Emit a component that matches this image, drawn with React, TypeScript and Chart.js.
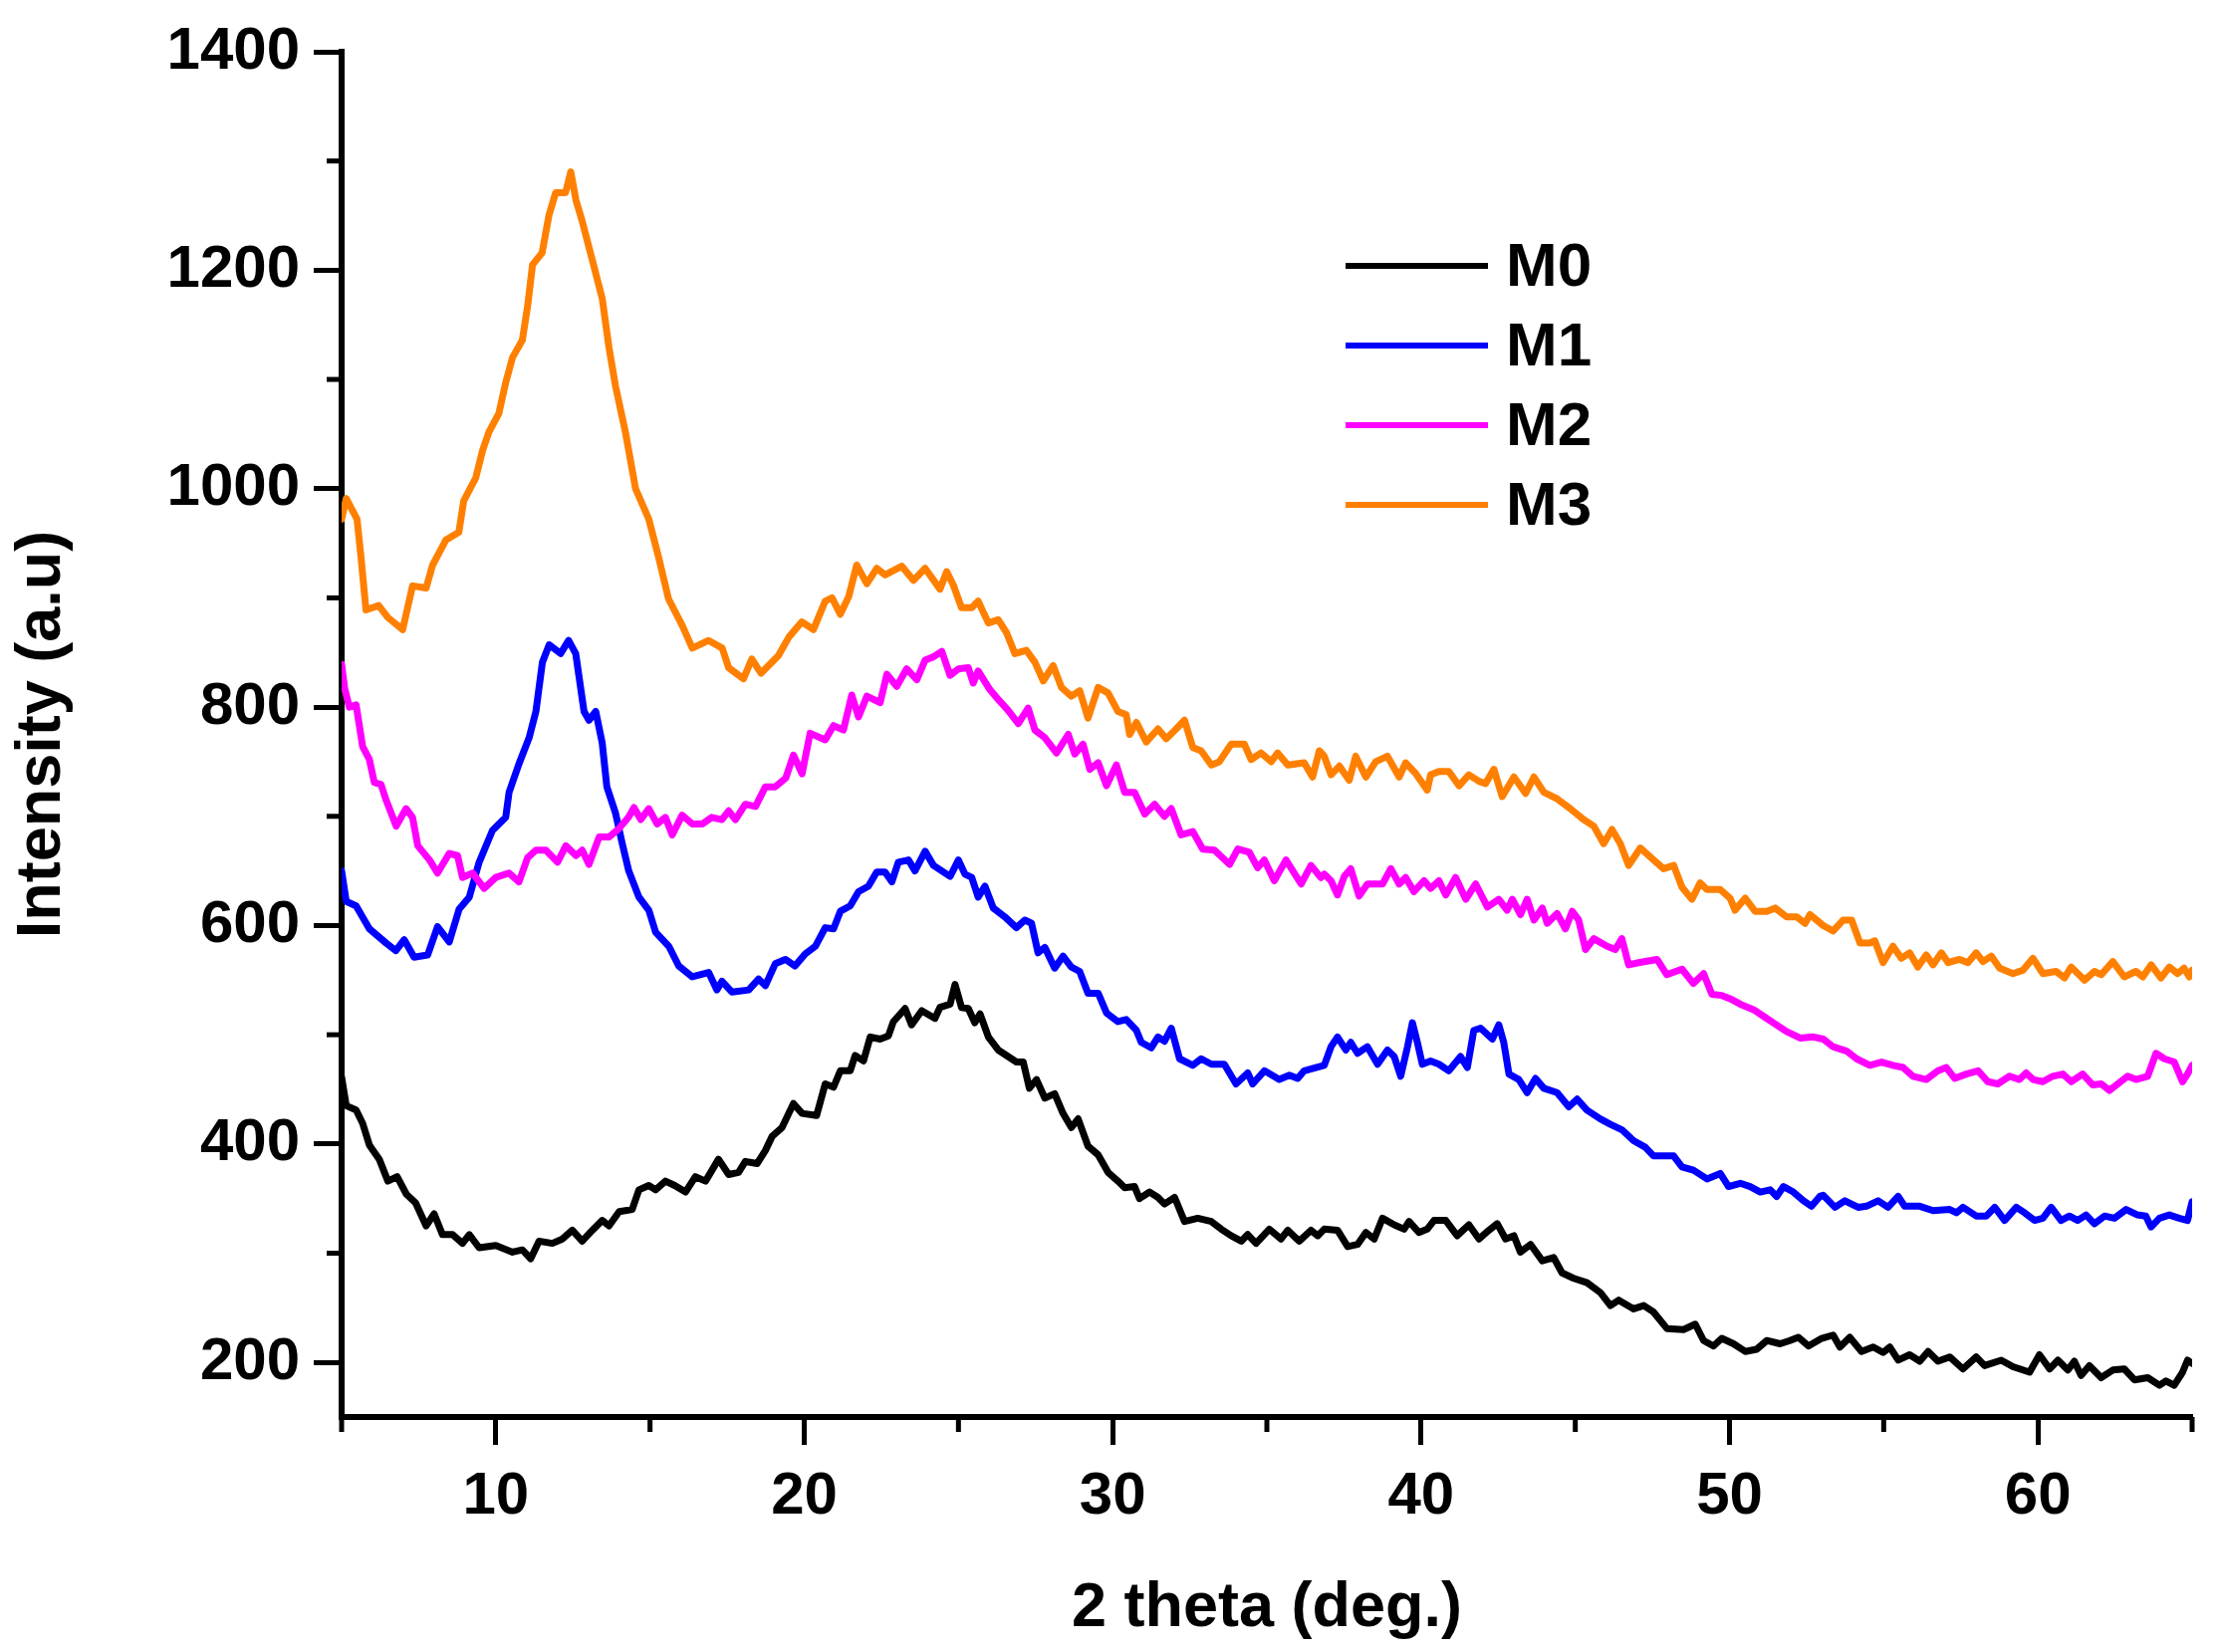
import { useEffect, useRef } from 'react';
import { Chart, registerables } from 'chart.js';

Chart.register(...registerables);

// 2 theta (deg.) and intensity (a.u.)
const m0Theta = [
  5.0, 5.15, 5.47, 5.68, 5.9, 6.22, 6.5, 6.8, 7.1, 7.4,
  7.74, 8.0, 8.27, 8.6, 8.92, 9.14, 9.46, 10.0, 10.54, 10.86,
  11.13, 11.4, 11.83, 12.16, 12.48, 12.8, 13.13, 13.45, 13.67, 14.0,
  14.42, 14.64, 14.96, 15.18, 15.5, 15.8, 16.15, 16.47, 16.8, 17.22,
  17.55, 17.87, 18.09, 18.47, 18.74, 18.96, 19.28, 19.65, 19.93, 20.4,
  20.68, 20.95, 21.17, 21.49, 21.65, 21.92, 22.14, 22.46, 22.73, 22.89,
  23.27, 23.48, 23.81, 24.24, 24.4, 24.73, 24.89, 25.1, 25.32, 25.53,
  25.7, 25.97, 26.29, 26.56, 26.88, 27.1, 27.3, 27.53, 27.8, 28.12,
  28.39, 28.66, 28.88, 29.2, 29.53, 29.85, 30.17, 30.39, 30.71, 30.87,
  31.2, 31.47, 31.68, 32.01, 32.33, 32.76, 33.2, 33.52, 33.84, 34.17,
  34.38, 34.65, 35.08, 35.46, 35.68, 36.05, 36.43, 36.65, 36.86, 37.29,
  37.62, 37.94, 38.21, 38.48, 38.75, 39.13, 39.45, 39.61, 39.93, 40.2,
  40.42, 40.8, 41.17, 41.55, 41.88, 42.2, 42.47, 42.74, 43.01, 43.22,
  43.55, 43.93, 44.3, 44.57, 44.95, 45.38, 45.81, 46.14, 46.41, 46.89,
  47.22, 47.54, 47.97, 48.51, 48.89, 49.16, 49.48, 49.75, 50.13, 50.51,
  50.88, 51.21, 51.64, 51.96, 52.23, 52.56, 52.99, 53.36, 53.58, 53.9,
  54.28, 54.66, 54.98, 55.2, 55.47, 55.84, 56.17, 56.44, 56.76, 57.14,
  57.57, 58.0, 58.27, 58.81, 59.19, 59.73, 60.05, 60.38, 60.65, 60.97,
  61.18, 61.4, 61.67, 62.05, 62.43, 62.8, 63.13, 63.56, 63.94, 64.15,
  64.42, 64.69, 64.85, 65.0,
];
const m0Intensity = [
  461, 435, 431, 419, 399, 386, 366, 370, 354, 346,
  325, 336, 317, 317, 309, 317, 305, 307, 301, 303,
  295, 311, 309, 313, 321, 311, 321, 330, 325, 338,
  340, 358, 362, 358, 366, 362, 356, 370, 366, 386,
  372, 374, 384, 382, 394, 407, 415, 437, 428, 426,
  455, 452, 467, 467, 481, 476, 498, 496, 499, 512,
  524, 509, 522, 515, 525, 528, 546, 525, 524, 511,
  519, 498, 486, 481, 475, 475, 451, 459, 442, 446,
  428, 415, 423, 398, 390, 374, 366, 360, 361, 350,
  356, 351, 345, 351, 329, 332, 329, 322, 316, 311,
  317, 309, 322, 313, 321, 311, 321, 316, 322, 321,
  306, 308, 319, 313, 332, 326, 322, 329, 319, 322,
  330, 330, 316, 326, 313, 321, 327, 313, 316, 301,
  308, 293, 296, 282, 277, 273, 264, 252, 257, 249,
  252, 246, 231, 230, 235, 220, 215, 222, 217, 210,
  212, 220, 217, 220, 223, 215, 222, 225, 214, 223,
  210, 214, 209, 214, 202, 207, 201, 210, 201, 205,
  194, 205, 197, 202, 196, 191, 207, 194, 202, 193,
  201, 188, 197, 186, 193, 194, 184, 186, 179, 183,
  179, 191, 202, 199,
];

const m1Theta = [
  5.0, 5.15, 5.47, 5.9, 6.44, 6.76, 7.03, 7.35, 7.79, 8.11,
  8.49, 8.81, 9.14, 9.46, 9.89, 10.32, 10.43, 10.75, 11.08, 11.3,
  11.51, 11.73, 12.1, 12.36, 12.59, 12.86, 13.02, 13.24, 13.45, 13.6,
  13.88, 14.1, 14.31, 14.64, 14.96, 15.18, 15.61, 15.93, 16.37, 16.9,
  17.17, 17.33, 17.66, 18.2, 18.52, 18.74, 19.06, 19.39, 19.7, 20.03,
  20.36, 20.68, 20.95, 21.17, 21.49, 21.76, 22.08, 22.35, 22.62, 22.84,
  23.05, 23.38, 23.59, 23.92, 24.19, 24.46, 24.73, 25.0, 25.21, 25.43,
  25.64, 25.86, 26.13, 26.5, 26.88, 27.15, 27.37, 27.58, 27.8, 28.12,
  28.39, 28.66, 28.93, 29.2, 29.53, 29.8, 30.17, 30.44, 30.77, 30.93,
  31.25, 31.47, 31.68, 31.9, 32.17, 32.6, 32.87, 33.2, 33.62, 34.0,
  34.38, 34.54, 34.92, 35.4, 35.73, 36.0, 36.21, 36.59, 36.86, 37.08,
  37.29, 37.56, 37.72, 37.94, 38.26, 38.59, 38.91, 39.13, 39.34, 39.56,
  39.72, 39.88, 40.04, 40.31, 40.58, 40.9, 41.28, 41.5, 41.71, 41.93,
  42.31, 42.52, 42.68, 42.85, 43.17, 43.44, 43.71, 43.98, 44.41, 44.79,
  45.06, 45.38, 45.81, 46.14, 46.51, 46.89, 47.27, 47.54, 48.19, 48.46,
  48.83, 49.27, 49.7, 49.97, 50.35, 50.67, 51.0, 51.32, 51.53, 51.75,
  52.07, 52.4, 52.66, 52.93, 53.04, 53.42, 53.74, 54.17, 54.44, 54.82,
  55.14, 55.47, 55.68, 56.17, 56.6, 57.14, 57.36, 57.57, 58.0, 58.33,
  58.6, 58.92, 59.3, 59.57, 59.89, 60.16, 60.43, 60.75, 61.02, 61.29,
  61.56, 61.83, 62.16, 62.48, 62.86, 63.23, 63.5, 63.67, 63.94, 64.26,
  64.58, 64.85, 65.0,
];
const m1Intensity = [
  650, 622, 618, 597, 584, 577, 587, 571, 573, 599,
  585, 615, 626, 658, 687, 699, 722, 748, 772, 796,
  841, 857, 849, 861, 849, 796, 788, 796, 767, 727,
  703, 675, 650, 626, 614, 594, 581, 563, 553, 557,
  541, 549, 539, 541, 551, 545, 565, 569, 563, 574,
  581, 598, 597, 613, 618, 631, 636, 649, 649, 640,
  658, 660, 650, 668, 655, 650, 645, 660, 647, 644,
  626, 636, 616, 608, 598, 605, 602, 575, 580, 561,
  572, 562, 558, 538, 538, 520, 512, 514, 504, 493,
  488, 498, 494, 506, 478, 472, 478, 473, 473, 455,
  465, 455, 467, 459, 463, 460, 467, 470, 472, 489,
  498, 486, 493, 483, 489, 473, 486, 480, 462, 489,
  511, 493, 473, 476, 473, 467, 480, 470, 504, 506,
  496, 509, 493, 464, 459, 447, 460, 451, 447, 434,
  441, 431, 423, 418, 413, 403, 397, 389, 389, 379,
  376, 368, 373, 361, 364, 361, 356, 358, 352, 361,
  356, 348, 343, 352, 353, 342, 348, 342, 343, 348,
  342, 352, 343, 343, 339, 340, 337, 342, 334, 334,
  342, 330, 342, 337, 330, 332, 342, 330, 334, 330,
  335, 327, 334, 332, 340, 335, 334, 324, 332, 335,
  332, 330, 347,
];

const m2Theta = [
  5.0, 5.1, 5.25, 5.47, 5.68, 5.9, 6.06, 6.28, 6.44, 6.66,
  6.77, 7.09, 7.3, 7.47, 7.85, 8.11, 8.49, 8.76, 8.92, 9.25,
  9.62, 10.0, 10.43, 10.75, 11.03, 11.3, 11.62, 12.0, 12.27, 12.6,
  12.8, 13.02, 13.35, 13.67, 14.0, 14.3, 14.48, 14.7, 14.96, 15.23,
  15.5, 15.72, 16.04, 16.37, 16.7, 17.0, 17.33, 17.55, 17.77, 18.09,
  18.42, 18.74, 19.06, 19.4, 19.65, 19.93, 20.19, 20.68, 20.95, 21.27,
  21.54, 21.76, 22.03, 22.46, 22.68, 23.0, 23.32, 23.65, 23.92, 24.19,
  24.46, 24.73, 25.0, 25.32, 25.48, 25.64, 26.02, 26.29, 26.61, 26.94,
  27.26, 27.48, 27.8, 28.18, 28.56, 28.77, 29.04, 29.26, 29.53, 29.8,
  30.12, 30.39, 30.71, 31.04, 31.36, 31.68, 31.9, 32.22, 32.6, 32.92,
  33.3, 33.79, 34.06, 34.43, 34.7, 34.92, 35.24, 35.62, 36.11, 36.43,
  36.75, 36.86, 37.08, 37.29, 37.51, 37.72, 37.99, 38.26, 38.75, 39.02,
  39.29, 39.5, 39.77, 40.1, 40.31, 40.58, 40.8, 41.12, 41.45, 41.77,
  42.15, 42.52, 42.79, 42.96, 43.22, 43.44, 43.66, 43.93, 44.09, 44.41,
  44.68, 44.9, 45.11, 45.33, 45.6, 46.03, 46.3, 46.51, 46.73, 47.05,
  47.65, 47.97, 48.46, 48.83, 49.16, 49.43, 49.75, 50.02, 50.35, 50.78,
  51.1, 51.42, 51.85, 52.29, 52.72, 53.04, 53.36, 53.8, 54.12, 54.55,
  54.93, 55.3, 55.63, 55.95, 56.38, 56.76, 57.03, 57.3, 57.68, 58.06,
  58.38, 58.7, 59.08, 59.4, 59.62, 59.84, 60.16, 60.48, 60.81, 61.08,
  61.45, 61.78, 62.05, 62.32, 62.59, 62.91, 63.18, 63.56, 63.83, 64.1,
  64.42, 64.69, 64.85, 65.0,
];
const m2Intensity = [
  839, 817, 800, 802, 764, 752, 731, 729, 715, 699,
  691, 707, 699, 673, 660, 648, 666, 664, 644, 648,
  634, 644, 648, 640, 662, 669, 669, 658, 673, 664,
  669, 656, 681, 681, 689, 699, 708, 697, 707, 693,
  699, 683, 701, 693, 693, 699, 697, 705, 697, 711,
  709, 727, 727, 735, 756, 739, 776, 770, 783, 779,
  811, 791, 810, 804, 830, 819, 835, 825, 843, 846,
  851, 829, 835, 836, 822, 833, 816, 807, 797, 785,
  799, 779, 772, 758, 775, 757, 766, 743, 749, 728,
  747, 722, 722, 702, 711, 700, 707, 683, 686, 670,
  669, 656, 670, 667, 653, 660, 641, 660, 638, 655,
  644, 647, 641, 628, 645, 652, 627, 638, 638, 652,
  638, 644, 631, 641, 634, 641, 628, 644, 624, 638,
  617, 624, 614, 624, 610, 624, 605, 616, 602, 611,
  597, 613, 605, 578, 588, 581, 578, 588, 564, 566,
  569, 555, 560, 547, 556, 537, 536, 533, 528, 523,
  517, 511, 503, 497, 498, 496, 489, 485, 478, 472,
  475, 472, 470, 462, 459, 467, 470, 460, 464, 467,
  457, 455, 462, 459, 465, 459, 457, 462, 464, 457,
  464, 454, 455, 449, 455, 462, 459, 462, 483, 478,
  475, 457, 464, 472,
];

const m3Theta = [
  5.0, 5.15, 5.5, 5.63, 5.79, 6.2, 6.5, 6.98, 7.3, 7.74,
  7.95, 8.38, 8.8, 8.96, 9.35, 9.57, 9.78, 10.1, 10.32, 10.54,
  10.86, 11.03, 11.19, 11.5, 11.72, 11.94, 12.26, 12.43, 12.6, 12.8,
  13.13, 13.45, 13.67, 13.88, 14.2, 14.53, 14.96, 15.28, 15.6, 16.04,
  16.37, 16.9, 17.34, 17.55, 18.03, 18.3, 18.6, 19.16, 19.5, 19.92,
  20.3, 20.68, 20.9, 21.17, 21.44, 21.7, 22.03, 22.35, 22.62, 23.16,
  23.54, 23.92, 24.4, 24.62, 24.83, 25.1, 25.43, 25.64, 25.97, 26.29,
  26.56, 26.83, 27.2, 27.48, 27.75, 28.07, 28.34, 28.66, 28.93, 29.2,
  29.53, 29.85, 30.17, 30.44, 30.55, 30.77, 31.09, 31.47, 31.74, 32.06,
  32.33, 32.6, 32.87, 33.2, 33.46, 33.84, 34.27, 34.49, 34.81, 35.14,
  35.35, 35.68, 36.21, 36.48, 36.7, 36.86, 37.08, 37.35, 37.67, 37.88,
  38.21, 38.53, 38.91, 39.29, 39.5, 39.83, 40.2, 40.31, 40.58, 40.9,
  41.23, 41.55, 41.88, 42.09, 42.36, 42.63, 43.01, 43.39, 43.66, 43.98,
  44.41, 44.84, 45.27, 45.6, 45.92, 46.19, 46.46, 46.73, 47.11, 47.54,
  47.86, 48.19, 48.46, 48.78, 49.05, 49.27, 49.7, 50.02, 50.18, 50.51,
  50.83, 51.21, 51.48, 51.85, 52.18, 52.45, 52.61, 53.04, 53.36, 53.69,
  53.96, 54.23, 54.55, 54.71, 54.98, 55.3, 55.57, 55.84, 56.11, 56.38,
  56.6, 56.87, 57.09, 57.46, 57.73, 58.0, 58.22, 58.49, 58.76, 59.19,
  59.51, 59.84, 60.16, 60.59, 60.86, 61.08, 61.51, 61.83, 62.05, 62.43,
  62.8, 63.18, 63.4, 63.67, 63.99, 64.26, 64.53, 64.74, 64.91, 65.0,
];
const m3Intensity = [
  972, 991, 972, 937, 889, 893, 882, 871, 911, 909,
  930, 953, 960, 989, 1010, 1035, 1052, 1069, 1097, 1120,
  1136, 1167, 1205, 1216, 1250, 1271, 1271, 1290, 1264, 1245,
  1209, 1174, 1129, 1094, 1052, 1000, 972, 937, 899, 875,
  854, 861, 854, 836, 826, 844, 831, 847, 864, 878,
  871, 897, 900, 885, 901, 930, 913, 927, 921, 929,
  916, 927, 908, 924, 912, 891, 891, 897, 877, 880,
  868, 849, 852, 841, 824, 838, 818, 810, 815, 790,
  818, 813, 796, 793, 775, 786, 768, 780, 771, 780,
  788, 763, 760, 747, 750, 766, 766, 752, 758, 750,
  758, 747, 749, 736, 760, 755, 738, 746, 733, 755,
  736, 750, 755, 736, 749, 739, 724, 738, 741, 741,
  728, 738, 732, 730, 743, 718, 736, 721, 736, 722,
  716, 707, 697, 691, 675, 688, 675, 655, 671, 660,
  652, 655, 635, 624, 639, 633, 633, 625, 614, 625,
  613, 613, 616, 608, 608, 602, 610, 600, 595, 605,
  605, 584, 584, 586, 566, 581, 570, 575, 562, 573,
  564, 575, 566, 569, 566, 575, 567, 572, 561, 556,
  559, 570, 556, 558, 552, 562, 550, 558, 555, 567,
  553, 558, 553, 564, 552, 562, 556, 561, 553, 559,
];

const seriesLabels = ['M0', 'M1', 'M2', 'M3'];
const seriesColors = ['#000000', '#0000ff', '#ff00ff', '#ff8000'];

const FONT = '"Liberation Sans", Arial, Helvetica, sans-serif';

function toPoints(theta: number[], intensity: number[]) {
  return theta.map((t, i) => ({ x: t, y: intensity[i] }));
}

// minor tick marks (half length) on both axes
const minorTicks = {
  id: 'minorTicks',
  afterDraw(chart: any) {
    const { ctx, chartArea, scales } = chart;
    const x = scales.x;
    const y = scales.y;
    ctx.save();
    ctx.strokeStyle = '#000';
    ctx.lineWidth = 5;
    x.ticks.forEach((t: any) => {
      if (t.value % 10 !== 0) {
        const px = x.getPixelForValue(t.value);
        ctx.beginPath();
        ctx.moveTo(px, chartArea.bottom);
        ctx.lineTo(px, chartArea.bottom + 15);
        ctx.stroke();
      }
    });
    y.ticks.forEach((t: any) => {
      if (t.value % 200 !== 0) {
        const py = y.getPixelForValue(t.value);
        ctx.beginPath();
        ctx.moveTo(chartArea.left, py);
        ctx.lineTo(chartArea.left - 15, py);
        ctx.stroke();
      }
    });
    ctx.restore();
  },
};

// legend block inside the plot area, like the Origin one
const insideLegend = {
  id: 'insideLegend',
  afterDraw(chart: any) {
    const { ctx } = chart;
    ctx.save();
    ctx.font = `bold 62px ${FONT}`;
    ctx.textBaseline = 'middle';
    ctx.textAlign = 'left';
    chart.data.datasets.forEach((ds: any, i: number) => {
      const yy = 267 + i * 80;
      ctx.strokeStyle = ds.borderColor;
      ctx.lineWidth = 6;
      ctx.beginPath();
      ctx.moveTo(1351, yy);
      ctx.lineTo(1494, yy);
      ctx.stroke();
      ctx.fillStyle = '#000';
      ctx.fillText(ds.label, 1512, yy + 3);
    });
    ctx.restore();
  },
};

export default function App() {
  const chartRef = useRef<HTMLCanvasElement>(null);
  const chartInstance = useRef<Chart | null>(null);

  useEffect(() => {
    if (!chartRef.current) return;

    if (chartInstance.current) {
      chartInstance.current.destroy();
    }

    const ctx = chartRef.current.getContext('2d');
    if (!ctx) return;

    const series = [
      toPoints(m0Theta, m0Intensity),
      toPoints(m1Theta, m1Intensity),
      toPoints(m2Theta, m2Intensity),
      toPoints(m3Theta, m3Intensity),
    ];

    chartInstance.current = new Chart(ctx, {
      type: 'line',
      data: {
        datasets: series.map((pts, i) => ({
          label: seriesLabels[i],
          data: pts,
          borderColor: seriesColors[i],
          backgroundColor: seriesColors[i],
          borderWidth: 7,
          borderJoinStyle: 'round',
          borderCapStyle: 'round',
          pointRadius: 0,
          tension: 0,
          fill: false,
          order: 3 - i,
        })),
      },
      options: {
        responsive: false,
        animation: false,
        devicePixelRatio: 1,
        layout: {
          padding: { top: 52, right: 29, bottom: 0, left: 0 },
        },
        plugins: {
          legend: { display: false },
          title: { display: false },
          tooltip: { enabled: false },
        },
        scales: {
          x: {
            type: 'linear',
            min: 5,
            max: 65,
            border: { display: true, color: '#000', width: 6 },
            grid: {
              drawOnChartArea: false,
              drawTicks: true,
              tickLength: 28,
              tickWidth: 5,
              tickColor: (c: any) => (c.tick && c.tick.value % 10 === 0 ? '#000' : 'rgba(0,0,0,0)'),
            },
            ticks: {
              stepSize: 5,
              autoSkip: false,
              maxRotation: 0,
              padding: 16,
              color: '#000',
              font: { family: FONT, size: 60, weight: 'bold' },
              callback: (v: any) => (Number(v) % 10 === 0 ? String(v) : ''),
            },
            title: {
              display: true,
              text: '2 theta (deg.)',
              color: '#000',
              font: { family: FONT, size: 63, weight: 'bold' },
              padding: { top: 0, bottom: 6 },
            },
            afterFit: (scale: any) => {
              scale.height = 236;
            },
          },
          y: {
            type: 'linear',
            min: 150,
            max: 1400,
            border: { display: true, color: '#000', width: 6 },
            grid: {
              drawOnChartArea: false,
              drawTicks: true,
              tickLength: 28,
              tickWidth: 5,
              tickColor: (c: any) => (c.tick && c.tick.value % 200 === 0 ? '#000' : 'rgba(0,0,0,0)'),
            },
            ticks: {
              stepSize: 100,
              includeBounds: false,
              autoSkip: false,
              padding: 14,
              color: '#000',
              font: { family: FONT, size: 60, weight: 'bold' },
              callback: (v: any) => (Number(v) % 200 === 0 ? String(v) : ''),
            },
            afterBuildTicks: (scale: any) => {
              scale.ticks = scale.ticks.filter((t: any) => t.value % 100 === 0);
            },
            title: {
              display: true,
              text: 'Intensity (a.u)',
              color: '#000',
              font: { family: FONT, size: 63, weight: 'bold' },
              padding: { top: 5, bottom: 0 },
            },
            afterFit: (scale: any) => {
              scale.width = 343;
            },
          },
        },
      },
      plugins: [minorTicks, insideLegend],
    } as any);

    return () => {
      if (chartInstance.current) {
        chartInstance.current.destroy();
        chartInstance.current = null;
      }
    };
  }, []);

  return (
    <div style={{ position: 'absolute', left: 0, top: 0, width: 2230, height: 1659, background: '#fff' }}>
      <canvas ref={chartRef} width={2230} height={1659} style={{ display: 'block' }}></canvas>
    </div>
  );
}
